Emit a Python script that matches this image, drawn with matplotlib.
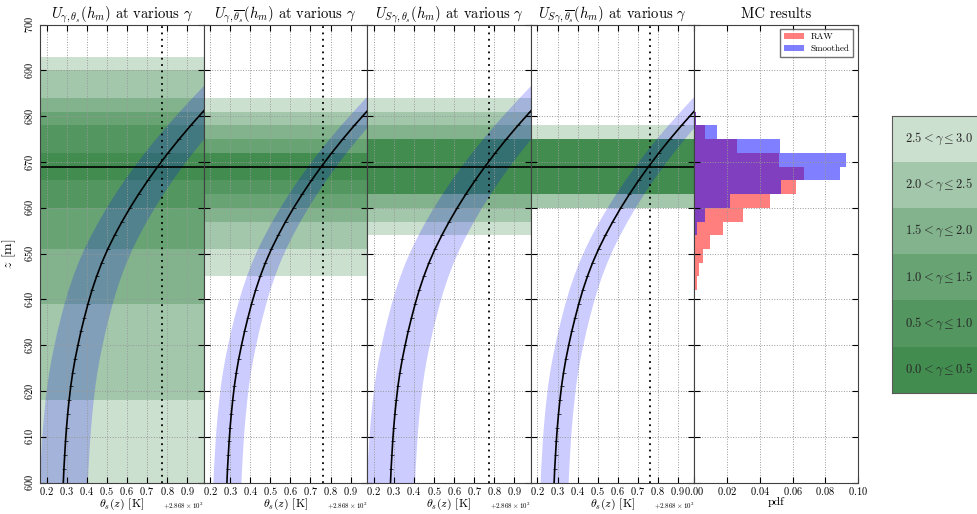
import numpy as np
import matplotlib
matplotlib.use("Agg")
import matplotlib.pyplot as plt
from matplotlib.ticker import ScalarFormatter, MultipleLocator

plt.rcParams['mathtext.fontset'] = 'cm'
plt.rcParams['font.family'] = 'serif'
plt.rcParams['font.serif'] = ['cmr10']
plt.rcParams['axes.formatter.use_mathtext'] = True
plt.rcParams['axes.unicode_minus'] = False
plt.rcParams['xtick.direction'] = 'in'
plt.rcParams['ytick.direction'] = 'in'
plt.rcParams['xtick.top'] = True
plt.rcParams['ytick.right'] = True
plt.rcParams['xtick.major.size'] = 4
plt.rcParams['ytick.major.size'] = 4
plt.rcParams['xtick.major.pad'] = 1.5

# profile theta_s(z) on the 3 m grid
z = [600, 603, 606, 609, 612, 615, 618, 621, 624, 627, 630, 633, 636, 639, 642, 645,
     648, 651, 654, 657, 660, 663, 666, 669, 672, 675, 678, 681, 684, 687, 690]
theta = [287.083, 287.086, 287.090, 287.094, 287.099, 287.105, 287.112, 287.120,
         287.130, 287.142, 287.156, 287.171, 287.188, 287.206, 287.226, 287.249,
         287.275, 287.305, 287.339, 287.376, 287.416, 287.459, 287.505, 287.554,
         287.606, 287.661, 287.719, 287.780, 287.843, 287.908, 287.975]

hm = 669
titles = [r'$U_{\gamma,\theta_s}(h_m)$ at various $\gamma$',
          r'$U_{\gamma,\overline{\theta_s}}(h_m)$ at various $\gamma$',
          r'$U_{S\gamma,\theta_s}(h_m)$ at various $\gamma$',
          r'$U_{S\gamma,\overline{\theta_s}}(h_m)$ at various $\gamma$']
band_halfwidth = [0.12, 0.07, 0.12, 0.07]
theta_ref = [287.575, 287.563, 287.575, 287.563]

# hm intervals per gamma level (0.0-0.5 ... 2.5-3.0)
gamma_labels = [r'$0.0 < \gamma \leq 0.5$', r'$0.5 < \gamma \leq 1.0$',
                r'$1.0 < \gamma \leq 1.5$', r'$1.5 < \gamma \leq 2.0$',
                r'$2.0 < \gamma \leq 2.5$', r'$2.5 < \gamma \leq 3.0$']
hm_ranges = [
    [(666, 672), (660, 678), (651, 681), (639, 684), (618, 690), (600, 693)],
    [(666, 672), (663, 672), (660, 675), (657, 678), (651, 681), (645, 684)],
    [(663, 675), (663, 675), (663, 675), (660, 678), (657, 681), (654, 684)],
    [(663, 675), (663, 675), (663, 675), (663, 675), (660, 675), (660, 678)],
]

# MC histogram, 3 m bins (lower edges)
bin_lo = [636, 639, 642, 645, 648, 651, 654, 657, 660, 663, 666, 669, 672, 675, 678]
pdf_raw = [0.0003, 0.0006, 0.0014, 0.0026, 0.0051, 0.0098, 0.0177, 0.0300, 0.0465,
           0.0622, 0.0667, 0.0516, 0.0259, 0.0067, 0.0008]
pdf_smooth = [0.0, 0.0, 0.0, 0.0, 0.0, 0.0, 0.0014, 0.0067, 0.0218,
              0.0530, 0.0887, 0.0924, 0.0524, 0.0137, 0.0008]

green = '#006414'

fig = plt.figure(figsize=(9.77, 5.14), dpi=100)
left0 = 40 / 977.
w = 163.6 / 977.
bot = 1 - 482.5 / 514.
h = (482.5 - 24.7) / 514.

axes = []
for i in range(5):
    ax = fig.add_axes([left0 + i * w, bot, w, h])
    axes.append(ax)

th = np.array(theta)
for i in range(4):
    ax = axes[i]
    for lo, hi in hm_ranges[i]:
        ax.axhspan(lo, hi, color=green, alpha=0.2, lw=0)
    d = band_halfwidth[i]
    ax.fill_betweenx(z, th - d, th + d, color='blue', alpha=0.2, lw=0)
    ax.plot(theta, z, color='k', lw=1.2, marker='_', ms=3, mew=0.5)
    ax.axhline(hm, color='k', lw=1.2)
    ax.axvline(theta_ref[i], color='k', ls=(0, (1, 2.5)), lw=1.3)
    ax.set_xlim(286.9667, 287.783)
    ax.xaxis.set_major_locator(MultipleLocator(0.1))
    ax.xaxis.set_major_formatter(ScalarFormatter(useOffset=286.8, useMathText=True))
    ax.xaxis.get_offset_text().set_fontsize(5)
    ax.set_xlabel(r'$\theta_s(z)$ [K]', fontsize=8.5, labelpad=0)
    ax.set_title(titles[i], fontsize=10.5, pad=5)

ax5 = axes[4]
ax5.barh(bin_lo, pdf_raw, height=3, align='edge', color='red', alpha=0.5, lw=0, label='RAW')
ax5.barh(bin_lo, pdf_smooth, height=3, align='edge', color='blue', alpha=0.5, lw=0, label='Smoothed')
ax5.set_xlim(0, 0.1)
ax5.xaxis.set_major_locator(MultipleLocator(0.02))
ax5.set_xlabel('pdf', fontsize=8.5, labelpad=0)
ax5.set_title('MC results', fontsize=10.5, pad=5)
leg = ax5.legend(loc='upper right', fontsize=6.5, fancybox=False, handlelength=2.2,
                 borderpad=0.4, labelspacing=0.4)
leg.get_frame().set_edgecolor('0.3')

for i, ax in enumerate(axes):
    ax.set_ylim(600, 700)
    ax.yaxis.set_major_locator(MultipleLocator(10))
    ax.grid(True, color='0.6', ls=':', lw=0.7)
    ax.tick_params(labelsize=7.5, width=0.8)
    for s in ax.spines.values():
        s.set_color('0.25')
    if i > 0:
        ax.tick_params(labelleft=False)

axes[0].set_ylabel(r'$z$ [m]', fontsize=10, labelpad=4)
plt.setp(axes[0].get_yticklabels(), rotation=90, va='center')

# gamma legend box on the right
lax = fig.add_axes([891.7 / 977., 1 - 392.7 / 514., 0.1, 276.7 / 514.])
for k in range(6):
    lax.axhspan(0, k + 1, color=green, alpha=0.2, lw=0)
for k in range(6):
    lax.text(0.136, k + 0.5, gamma_labels[k], fontsize=9, va='center', ha='left', color='0.15')
lax.set_xlim(0, 1)
lax.set_ylim(0, 6)
lax.set_xticks([])
lax.set_yticks([])
for s in lax.spines.values():
    s.set_color('0.35')

fig.savefig('out.png', dpi=100)
